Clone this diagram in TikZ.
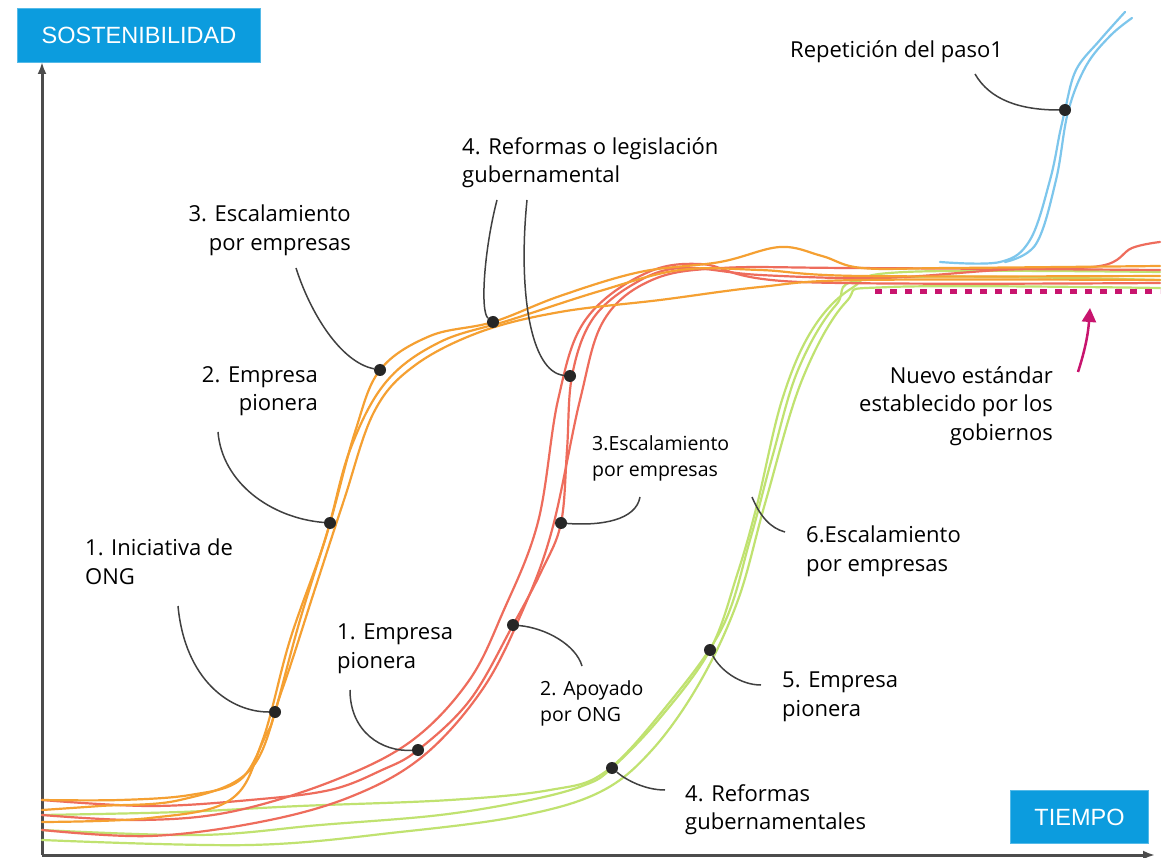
\documentclass[tikz,border=0pt]{standalone}
\usepackage{fontspec}
\setmainfont{Open Sans}
\newfontfamily\boxfont{Liberation Sans}
\usetikzlibrary{arrows.meta}

\definecolor{naranja}{RGB}{245,160,50}
\definecolor{rojo}{RGB}{238,108,92}
\definecolor{verde}{RGB}{192,226,112}
\definecolor{celeste}{RGB}{125,198,236}
\definecolor{azulcaja}{RGB}{12,156,222}
\definecolor{magenta}{RGB}{200,20,110}

\tikzset{
	hilo/.style={line width=2.2pt, line cap=round},
	guia/.style={line width=1.5pt, draw=black!75},
	punto/.style={circle, fill=black!85, inner sep=0pt, minimum size=12pt},
	etiqueta/.style={font=\fontsize{22}{28.5}\selectfont, inner sep=0pt, fill=white},
	chica/.style={font=\fontsize{19.5}{26}\selectfont, inner sep=0pt, fill=white},
	caja/.style={fill=azulcaja, draw=azulcaja!70!white, line width=1pt, text=white,
		font=\boxfont\fontsize{23.5}{23.5}\selectfont, inner ysep=0pt}
}

\begin{document}
\begin{tikzpicture}[x=1pt, y=-1pt]
	\useasboundingbox[fill=white] (0,0) rectangle (1173,858);
	%%%%% START %%%%%
	% ejes
	\draw[line width=3pt, black!70, -{Latex[length=12pt,width=9pt]}] (42,855) -- (42,62);
	\draw[line width=3pt, black!70, -{Latex[length=12pt,width=9pt]}] (42,855) -- (1155,855);
	
	% curvas verdes
	\draw[hilo, verde] plot[smooth, tension=0.6] coordinates {(42,830) (200,835) (320,825) (440,815) (530,800) (585,785) (612,768) (660,718) (710,650) (737,575) (757,505) (782,400) (812,330) (852,288) (905,272) (1160,272)};
	\draw[hilo, verde] plot[smooth, tension=0.6] coordinates {(42,815) (180,812) (300,806) (450,800) (550,790) (605,772) (665,708) (722,628) (750,540) (772,458) (798,370) (836,305) (880,278) (1160,280)};
	\draw[hilo, verde] plot[smooth, tension=0.6] coordinates {(42,840) (250,845) (400,832) (520,816) (600,792) (652,750) (700,682) (738,600) (766,500) (802,380) (846,302) (890,287) (1160,288)};
	
	% curvas rojas
	\draw[hilo, rojo] plot[smooth, tension=0.6] coordinates {(42,800) (150,806) (250,800) (330,790) (382,770) (418,750) (470,700) (513,625) (542,570) (561,523) (567,450) (572,376) (592,320) (632,285) (680,268) (760,275) (880,278) (1000,270) (1100,266) (1132,248) (1160,242)};
	\draw[hilo, rojo] plot[smooth, tension=0.6] coordinates {(42,830) (150,836) (260,822) (350,797) (422,757) (482,690) (522,612) (552,530) (580,400) (604,320) (652,280) (722,268) (850,268) (1160,270)};
	\draw[hilo, rojo] plot[smooth, tension=0.6] coordinates {(42,815) (140,820) (230,812) (330,782) (410,742) (468,682) (503,612) (538,522) (558,400) (584,322) (640,276) (700,264) (800,282) (1160,283)};
	
	% curvas naranjas
	\draw[hilo, naranja] plot[smooth, tension=0.6] coordinates {(42,800) (120,800) (190,795) (240,780) (266,735) (275,712) (300,620) (330,523) (355,432) (380,370) (430,336) (493,322) (560,296) (640,272) (720,262) (780,247) (822,256) (862,268) (950,268) (1160,266)};
	\draw[hilo, naranja] plot[smooth, tension=0.6] coordinates {(42,822) (150,818) (230,800) (262,742) (290,640) (325,540) (350,450) (386,382) (440,342) (510,320) (600,291) (680,270) (760,270) (860,276) (1160,276)};
	\draw[hilo, naranja] plot[smooth, tension=0.6] coordinates {(42,810) (100,806) (180,800) (250,770) (282,690) (314,592) (344,500) (374,412) (414,366) (480,332) (560,312) (660,300) (760,287) (860,280) (1160,280)};
	
	% curvas celestes
	\draw[hilo, celeste] plot[smooth, tension=0.6] coordinates {(940,262) (1000,262) (1030,240) (1050,180) (1060,132) (1065,110) (1076,70) (1100,40) (1125,12)};
	\draw[hilo, celeste] plot[smooth, tension=0.6] coordinates {(1005,262) (1036,244) (1056,180) (1068,112) (1086,66) (1110,36) (1132,18)};
	
	% nuevo estandar
	\draw[line width=5pt, magenta, dash pattern=on 7pt off 8pt] (875,292) -- (1160,292);
	
	% puntos
	\node[punto] (p1) at (275,712) {};
	\node[punto] (p2) at (330,523) {};
	\node[punto] (p3) at (380,370) {};
	\node[punto] (p4) at (493,322) {};
	\node[punto] (r1) at (418,750) {};
	\node[punto] (r2) at (513,625) {};
	\node[punto] (r3) at (561,523) {};
	\node[punto] (r4) at (570,376) {};
	\node[punto] (v4) at (612,768) {};
	\node[punto] (v5) at (710,650) {};
	\node[punto] (b1) at (1065,110) {};
	
	% extremos libres de las guias
	\coordinate (g1) at (178,606);
	\coordinate (g2) at (218,432);
	\coordinate (g3) at (296,268);
	\coordinate (g4a) at (497,200);
	\coordinate (g4b) at (527,200);
	\coordinate (g5) at (350,690);
	\coordinate (g6) at (582,666);
	\coordinate (g7) at (640,497);
	\coordinate (g8a) at (752,497);
	\coordinate (g8) at (785,532);
	\coordinate (g9) at (761,685);
	\coordinate (g10) at (665,790);
	\coordinate (g11) at (975,74);
	\coordinate (f1) at (1078,372);
	\coordinate (f2) at (1090,308);
	
	% guias
	\draw[guia] (g1) .. controls (185,680) and (230,712) .. (p1);
	\draw[guia] (g2) .. controls (222,482) and (270,518) .. (p2);
	\draw[guia] (g3) .. controls (310,312) and (340,362) .. (p3);
	\draw[guia] (g4a) .. controls (484,250) and (480,312) .. (p4);
	\draw[guia] (g4b) .. controls (518,290) and (530,372) .. (r4);
	\draw[guia] (g5) .. controls (350,732) and (382,752) .. (r1);
	\draw[guia] (r2) .. controls (546,628) and (576,645) .. (g6);
	\draw[guia] (r3) .. controls (602,526) and (636,520) .. (g7);
	\draw[guia] (g8a) .. controls (760,516) and (770,528) .. (g8);
	\draw[guia] (v5) .. controls (720,670) and (740,685) .. (g9);
	\draw[guia] (v4) .. controls (626,780) and (645,790) .. (g10);
	\draw[guia] (g11) .. controls (990,100) and (1020,110) .. (b1);
	\draw[line width=2.5pt, magenta, -{Triangle[length=14pt,width=14pt]}] (f1) .. controls (1085,350) and (1088,335) .. (f2);
	
	% textos
	\node[etiqueta, anchor=north west, align=left] (ong) at (85,539) {1. Iniciativa de\\ONG};
	\node[etiqueta, anchor=north east, align=right] (pio) at (318,366) {2. Empresa\\pionera};
	\node[etiqueta, anchor=north east, align=right] (esc) at (351,205) {3. Escalamiento\\por empresas};
	\node[etiqueta, anchor=north west, align=left] (ley) at (462,137) {4. Reformas o legislación\\gubernamental};
	\node[etiqueta, anchor=north west, align=left] (pio1) at (337,624) {1. Empresa\\pionera};
	\node[chica, anchor=north west, align=left] (apo) at (540,680) {2. Apoyado\\por ONG};
	\node[chica, anchor=north west, align=left] (esc3) at (592,435) {3.Escalamiento\\por empresas};
	\node[etiqueta, anchor=north west, align=left] (esc6) at (806,526) {6.Escalamiento\\por empresas};
	\node[etiqueta, anchor=north west, align=left] (pio5) at (782,672) {5. Empresa\\pionera};
	\node[etiqueta, anchor=north west, align=left] (ref4) at (685,784) {4. Reformas\\gubernamentales};
	\node[etiqueta, anchor=north west, align=left] (rep) at (790,40) {Repetición del paso1};
	\node[etiqueta, anchor=north east, align=right] (nue) at (1053,366) {Nuevo estándar\\establecido por los\\gobiernos};
	
	% cajas de los ejes
	\node[caja, anchor=north west, minimum width=243pt, minimum height=54pt] (sos) at (17,8) {SOSTENIBILIDAD};
	\node[caja, anchor=north west, minimum width=138pt, minimum height=53pt] (tie) at (1010,790) {TIEMPO};
	%%%%% END %%%%%
\end{tikzpicture}
\end{document}
